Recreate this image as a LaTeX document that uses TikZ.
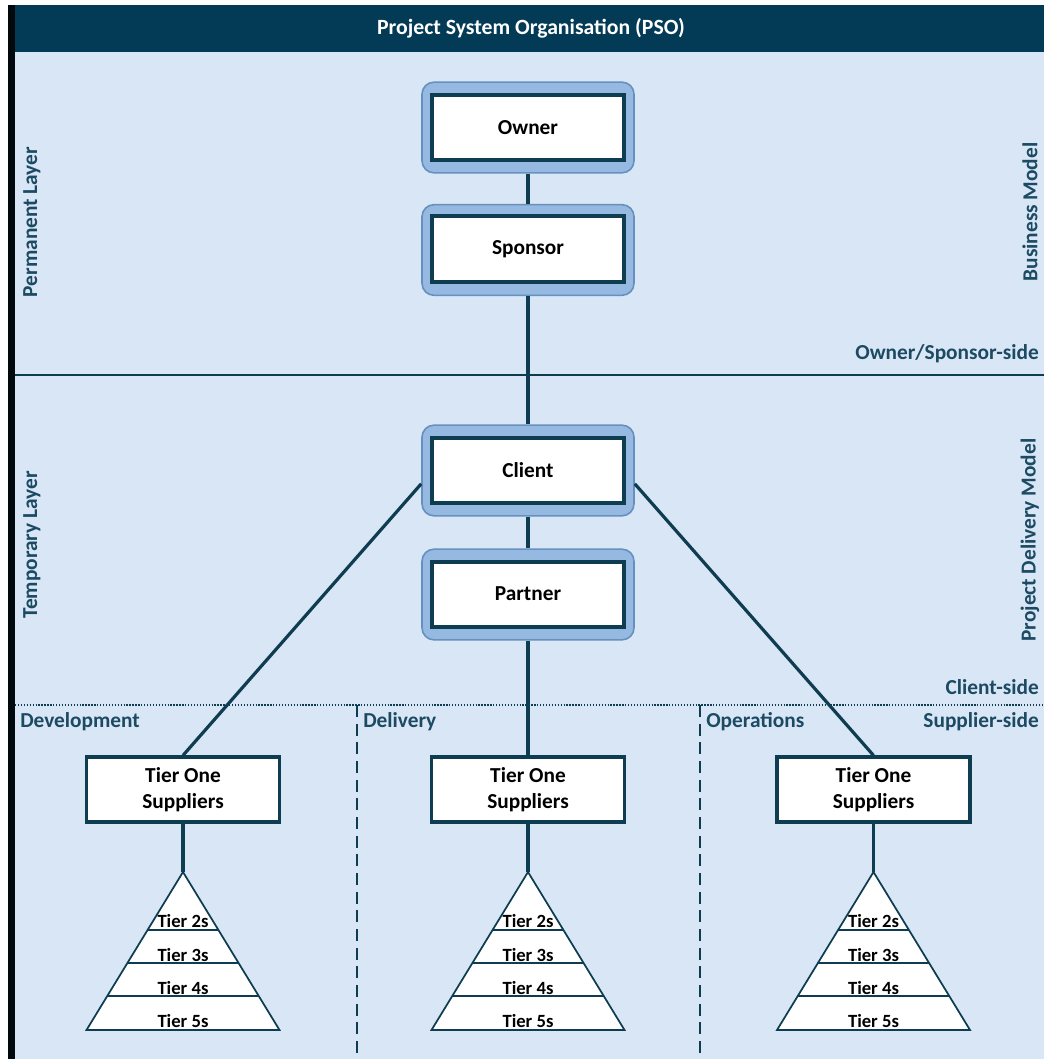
\documentclass[tikz,border=0pt]{standalone}
\usepackage{fontspec}
\setmainfont{Carlito}
\usetikzlibrary{calc}
\definecolor{barteal}{HTML}{033A55}
\definecolor{panel}{HTML}{D9E6F5}
\definecolor{ink}{HTML}{0E3D52}
\definecolor{labelink}{HTML}{1B4A62}
\definecolor{holderfill}{HTML}{95B9E1}
\definecolor{holderline}{HTML}{6690BE}
\tikzset{
  holder/.style={draw=holderline, line width=1.2pt, fill=holderfill, rounded corners=9pt,
    minimum width=159pt, minimum height=68pt, inner sep=0pt},
  role/.style={draw=ink, line width=3pt, fill=white, minimum width=144pt,
    minimum height=48.75pt, inner sep=0pt, font=\fontsize{16}{19}\selectfont\bfseries},
  tierbox/.style={draw=ink, line width=2.4pt, fill=white, minimum width=144.75pt,
    minimum height=48.75pt, inner sep=0pt, align=center,
    font=\fontsize{16}{19.5}\selectfont\bfseries},
  link/.style={draw=ink, line width=2.4pt},
  pyr/.style={draw=ink, line width=1.3pt, fill=white},
  tiertext/.style={font=\fontsize{14}{16}\selectfont\bfseries, inner sep=0pt},
  sidetext/.style={text=labelink, font=\fontsize{16}{19}\selectfont\bfseries, inner sep=0pt},
}
% one supplier pyramid: #1 name prefix, #2 centre x
\newcommand\tierpyramid[2]{%
  \coordinate (#1-top) at (#2,872);
  \draw[pyr] (#1-top) -- (#2+96.5,1030) -- (#2-96.5,1030) -- cycle;
  \draw[ink, line width=1.3pt] (#2-35.4,930) -- (#2+35.4,930);
  \draw[ink, line width=1.3pt] (#2-55.6,963) -- (#2+55.6,963);
  \draw[ink, line width=1.3pt] (#2-75.7,996) -- (#2+75.7,996);
  \node[tiertext] (#1-t2) at (#2,921) {Tier 2s};
  \node[tiertext] (#1-t3) at (#2,955) {Tier 3s};
  \node[tiertext] (#1-t4) at (#2,988) {Tier 4s};
  \node[tiertext] (#1-t5) at (#2,1021) {Tier 5s};
}
\begin{document}
\begin{tikzpicture}[x=0.75pt,y=-0.75pt]
\useasboundingbox (0,0) rectangle (1044,1059);
\fill[white] (0,0) rectangle (1044,1059);
% frame
\fill[panel] (15,52) rectangle (1044,1059);
\fill[barteal] (15,5) rectangle (1044,52);
\fill[black!85!barteal] (8,5) rectangle (15,1059);
\node[text=white, font=\fontsize{16.3}{19}\selectfont\bfseries] (title) at (531,28) {Project System Organisation (PSO)};

% layer dividers
\draw[ink, line width=1.6pt] (15,375) -- (1044,375);
\draw[ink, line width=1pt, dash pattern=on 1pt off 1.2pt] (15,705) -- (1044,705);
\draw[ink, line width=1.6pt, dash pattern=on 9pt off 5pt] (357,705) -- (357,1059);
\draw[ink, line width=1.6pt, dash pattern=on 9pt off 5pt] (700,705) -- (700,1059);

% side labels
\node[sidetext, rotate=90] (perm) at (32,222) {Permanent Layer};
\node[sidetext, rotate=90] (temp) at (32,545) {Temporary Layer};
\node[sidetext, rotate=90] (bm) at (1030,212) {Business Model};
\node[sidetext, rotate=90] (pdm) at (1030,540) {Project Delivery Model};
\node[sidetext, anchor=east] (oss) at (1039,354) {Owner/Sponsor-side};
\node[sidetext, anchor=east] (cs) at (1039,687) {Client-side};
\node[sidetext, anchor=east] (ss) at (1039,722) {Supplier-side};
\node[sidetext, anchor=west] (dev) at (20,722) {Development};
\node[sidetext, anchor=west] (del) at (363,722) {Delivery};
\node[sidetext, anchor=west] (ops) at (706,722) {Operations};

% permanent and temporary roles
\node[holder] (own-o) at (528,127.5) {};
\node[role] (own) at (528,127.5) {Owner};
\node[holder] (spo-o) at (528,250) {};
\node[role] (spo) at (528,249) {Sponsor};
\node[holder] (cli-o) at (528,470.5) {};
\node[role] (cli) at (528,470) {Client};
\node[holder] (par-o) at (528,594.5) {};
\node[role] (par) at (528,594) {Partner};

% tier one suppliers
\node[tierbox] (t1a) at (183,789.5) {Tier One\\Suppliers};
\node[tierbox] (t1b) at (528,789.5) {Tier One\\Suppliers};
\node[tierbox] (t1c) at (873.5,789.5) {Tier One\\Suppliers};

\tierpyramid{pa}{183}
\tierpyramid{pb}{528}
\tierpyramid{pc}{873.5}

% connectors
\draw[link] (own-o.south) -- (spo-o.north);
\draw[link] (spo-o.south) -- (cli-o.north);
\draw[link] (cli-o.south) -- (par-o.north);
\draw[link] (par-o.south) -- (t1b.north);
\draw[link] ([yshift=-10pt]cli-o.west) -- (t1a.north);
\draw[link] ([yshift=-10pt]cli-o.east) -- (t1c.north);
\draw[link] (t1a.south) -- (pa-top);
\draw[link] (t1b.south) -- (pb-top);
\draw[link] (t1c.south) -- (pc-top);
\end{tikzpicture}
\end{document}
